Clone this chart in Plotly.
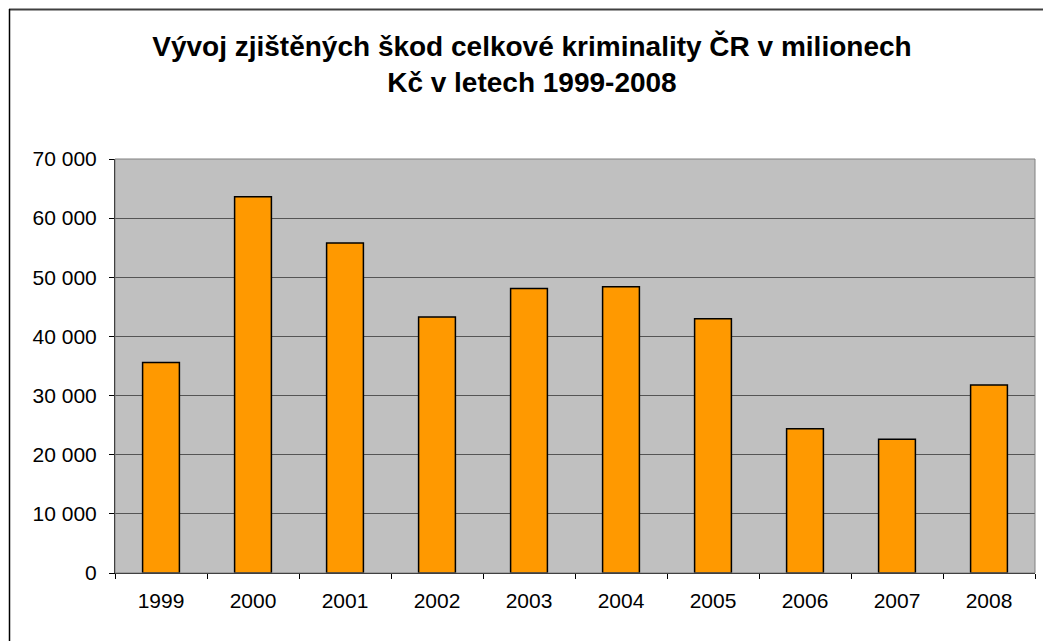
import plotly.graph_objects as go

years = ["1999", "2000", "2001", "2002", "2003", "2004", "2005", "2006", "2007", "2008"]
damages = [35600, 63600, 55800, 43300, 48100, 48400, 43000, 24400, 22600, 31800]
y_ticks = [0, 10000, 20000, 30000, 40000, 50000, 60000, 70000]
y_tick_labels = ["0", "10 000", "20 000", "30 000", "40 000", "50 000", "60 000", "70 000"]
title_text = "<b>Vývoj zjištěných škod celkové kriminality ČR v milionech<br>Kč v letech 1999-2008</b>"

W, H = 1043, 641
L, R, T, B = 115, 8, 159, 68
pw, ph = W - L - R, H - T - B

fig = go.Figure(go.Bar(
    x=years, y=damages,
    marker=dict(color="#FF9900", line=dict(color="black", width=1.5)),
    width=0.4,
))

def px_to_paper_x(px):
    return (px - L) / pw

def px_to_paper_y(py):
    return (H - B - py) / ph

fig.update_layout(
    width=W, height=H,
    margin=dict(l=L, r=R, t=T, b=B, pad=0),
    paper_bgcolor="white",
    plot_bgcolor="#C0C0C0",
    showlegend=False,
    font=dict(family="Liberation Sans, Arial, sans-serif", size=21, color="black"),
    title=dict(text=title_text, x=0.51, xanchor="center", y=1 - 56 / H, yanchor="middle",
               font=dict(family="Liberation Sans, Arial, sans-serif", size=28, color="black")),
    xaxis=dict(type="category", showgrid=False, showline=True, linecolor="black", linewidth=1,
               ticks="outside", tickson="boundaries", ticklen=5, tickcolor="black",
               tickfont=dict(size=21), range=[-0.5, 9.5], ticklabelstandoff=9),
    yaxis=dict(range=[0, 70000], tickvals=y_ticks, ticktext=y_tick_labels,
               showgrid=True, gridcolor="#555555", gridwidth=1,
               showline=True, linecolor="black", linewidth=1, zeroline=False,
               ticks="outside", ticklen=5, tickcolor="black", tickfont=dict(size=21),
               ticklabelstandoff=8),
    shapes=[
        dict(type="rect", xref="paper", yref="paper",
             x0=0, x1=1, y0=0, y1=1, line=dict(color="#808080", width=1), layer="above"),
        dict(type="line", xref="paper", yref="paper",
             x0=px_to_paper_x(9), x1=px_to_paper_x(1060),
             y0=px_to_paper_y(9.5), y1=px_to_paper_y(9.5),
             line=dict(color="#404040", width=2)),
        dict(type="line", xref="paper", yref="paper",
             x0=px_to_paper_x(9.5), x1=px_to_paper_x(9.5),
             y0=px_to_paper_y(9), y1=px_to_paper_y(660),
             line=dict(color="black", width=1.5)),
    ],
)

fig.write_html("out.html", config={"displayModeBar": False},
               post_script="document.body.style.margin='0px';document.body.style.overflow='hidden';")
